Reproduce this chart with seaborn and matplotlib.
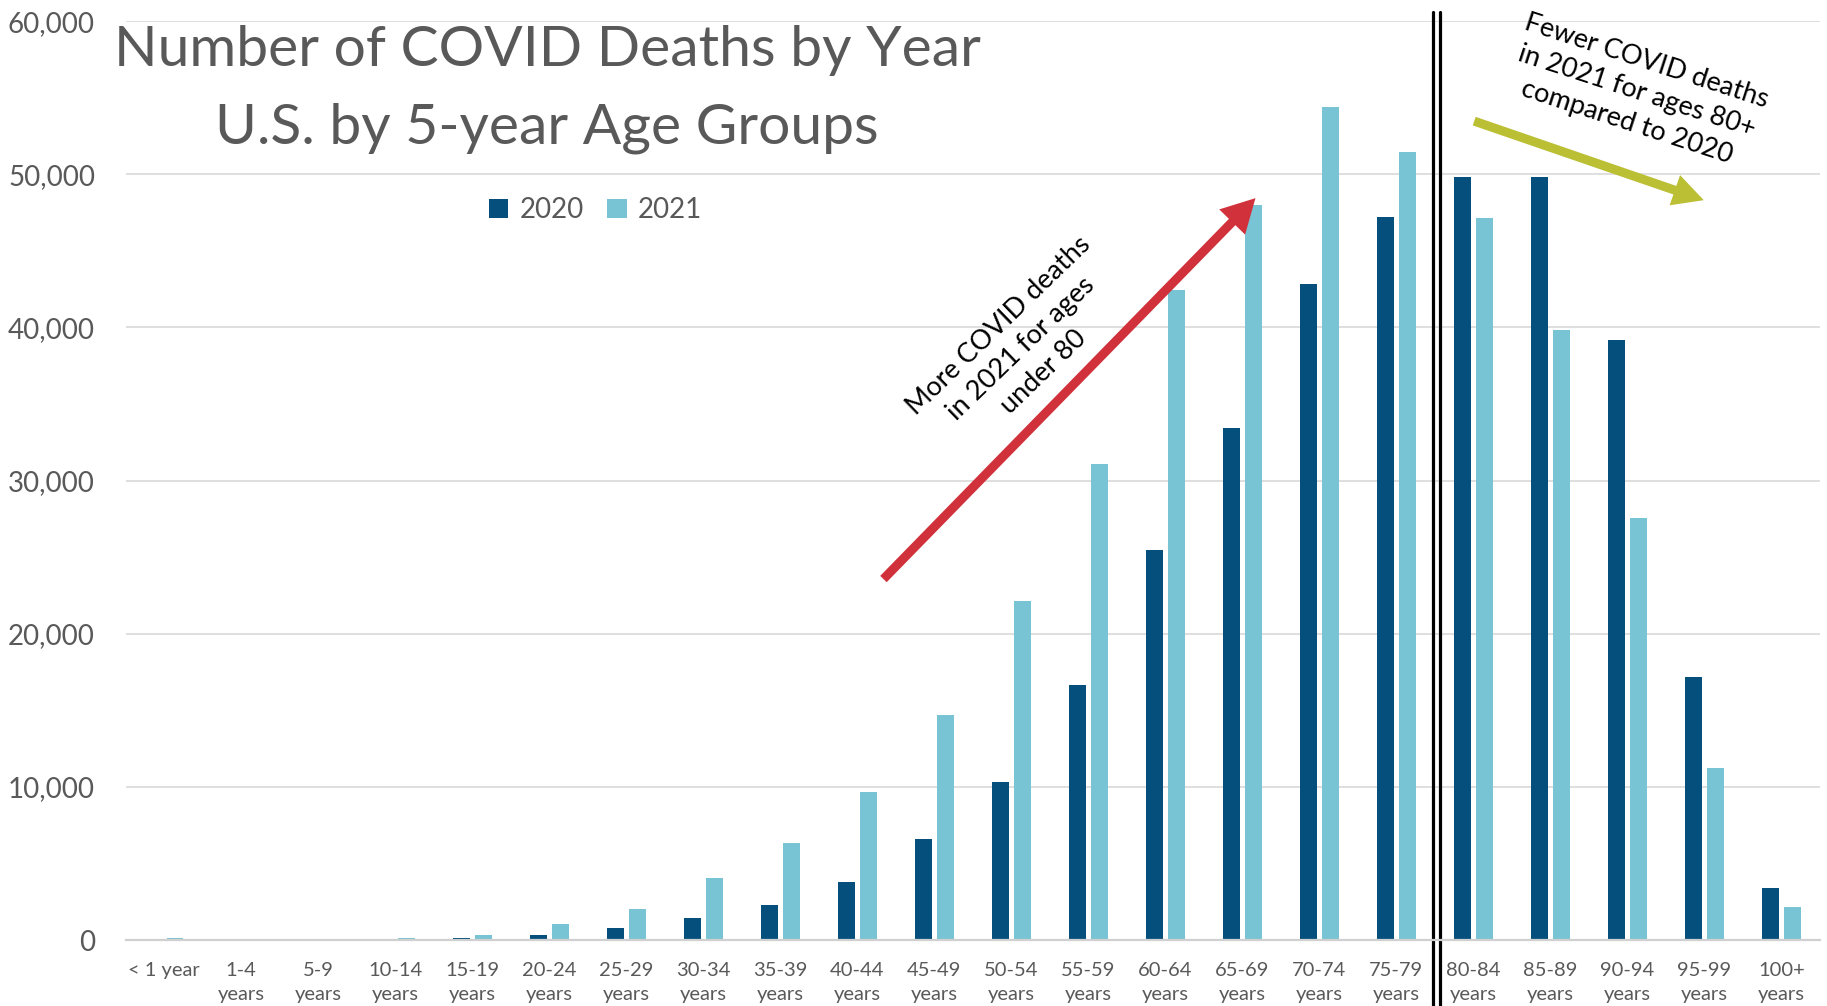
import numpy as np
import pandas as pd
import seaborn as sns
import matplotlib
matplotlib.use("Agg")
import matplotlib.pyplot as plt
from matplotlib.lines import Line2D
from matplotlib.patches import ArrowStyle
from matplotlib.transforms import blended_transform_factory

# ---------------- data ----------------
age_groups = ["< 1 year", "1-4\nyears", "5-9\nyears", "10-14\nyears", "15-19\nyears",
              "20-24\nyears", "25-29\nyears", "30-34\nyears", "35-39\nyears", "40-44\nyears",
              "45-49\nyears", "50-54\nyears", "55-59\nyears", "60-64\nyears", "65-69\nyears",
              "70-74\nyears", "75-79\nyears", "80-84\nyears", "85-89\nyears", "90-94\nyears",
              "95-99\nyears", "100+\nyears"]
deaths_2020 = [50, 20, 25, 50, 140, 350, 770, 1450, 2280, 3800, 6610, 10340, 16650,
               25480, 33460, 42810, 47220, 49850, 49810, 39160, 17190, 3420]
deaths_2021 = [150, 60, 90, 130, 350, 1030, 2050, 4030, 6310, 9660, 14680, 22130, 31100,
               42430, 47980, 54400, 51480, 47150, 39800, 27530, 11250, 2130]
years = ["2020", "2021"]
title_lines = ["Number of COVID Deaths by Year", "U.S. by 5-year Age Groups"]
yticks = [0, 10000, 20000, 30000, 40000, 50000, 60000]

df = pd.DataFrame({
    "age": age_groups * 2,
    "year": [years[0]] * len(age_groups) + [years[1]] * len(age_groups),
    "deaths": deaths_2020 + deaths_2021,
})

# ---------------- style ----------------
sns.set_theme(style="white")
plt.rcParams["font.family"] = ["Lato", "DejaVu Sans"]
GRAY = "#595959"
palette = {"2020": "#044F7C", "2021": "#78C4D4"}

fig = plt.figure(figsize=(18.27, 10.06), dpi=100)
ax = fig.add_axes([0.0687, 0.0656, 0.9275, 0.9134])

sns.barplot(data=df, x="age", y="deaths", hue="year", order=age_groups,
            hue_order=years, palette=palette, width=0.57, gap=0.23,
            linewidth=0, saturation=1, ax=ax)

ax.set_xlim(-0.5, len(age_groups) - 0.5)
ax.set_ylim(0, 60000)
ax.set_yticks(yticks)
ax.set_yticklabels([f"{v:,}" for v in yticks])
ax.set_xlabel("")
ax.set_ylabel("")
ax.yaxis.grid(True, color="#D9D9D9", lw=1.2)
ax.set_axisbelow(True)
for s in ["top", "right", "left"]:
    ax.spines[s].set_visible(False)
ax.spines["bottom"].set_color("#D0D0D0")
ax.spines["bottom"].set_linewidth(1.6)
ax.tick_params(axis="y", length=0, pad=22, labelsize=20, labelcolor=GRAY)
ax.tick_params(axis="x", length=0, pad=16, labelsize=14.5, labelcolor=GRAY)
for lbl in ax.get_xticklabels():
    lbl.set_linespacing(1.5)

# legend
handles, labels = ax.get_legend_handles_labels()
ax.legend(handles, labels, loc="center", bbox_to_anchor=(0.326, 0.791),
          bbox_transform=fig.transFigure, ncol=2, frameon=False, fontsize=20,
          labelcolor=GRAY, handlelength=0.7, handleheight=0.7,
          handletextpad=0.4, columnspacing=0.85)

# title
fig.text(0.2994, 0.950, title_lines[0], ha="center", va="center", fontsize=41, color=GRAY)
fig.text(0.2994, 0.873, title_lines[1], ha="center", va="center", fontsize=41, color=GRAY)

# double vertical separator
trans = blended_transform_factory(ax.transData, fig.transFigure)
for xv in (16.47, 16.56):
    ax.add_line(Line2D([xv, xv], [0, 0.988], transform=trans, color="black",
                       lw=2.3, clip_on=False))

# arrows
red = "#D0313A"
green = "#BBBF33"
ax.annotate("", xy=(14.17, 48440), xytext=(9.34, 23570),
            arrowprops=dict(arrowstyle=ArrowStyle.Simple(head_length=24, head_width=26, tail_width=6.5),
                            mutation_scale=1, color=red, shrinkA=0, shrinkB=0, lw=0))
ax.annotate("", xy=(19.99, 48310), xytext=(17.01, 53470),
            arrowprops=dict(arrowstyle=ArrowStyle.Simple(head_length=22, head_width=23, tail_width=6.5),
                            mutation_scale=1, color=green, shrinkA=0, shrinkB=0, lw=0),
            annotation_clip=False)

ax.text(11.13, 38600, "More COVID deaths\nin 2021 for ages\nunder 80", rotation=44,
        rotation_mode="anchor", ha="center", va="center", multialignment="center",
        fontsize=19.5, color="black", linespacing=1.35)
ax.text(19.12, 55400, "Fewer COVID deaths\nin 2021 for ages 80+\ncompared to 2020", rotation=-18,
        rotation_mode="anchor", ha="center", va="center", multialignment="center",
        fontsize=19.5, color="black", linespacing=1.35, clip_on=False)

fig.savefig("out.png", dpi=100)
